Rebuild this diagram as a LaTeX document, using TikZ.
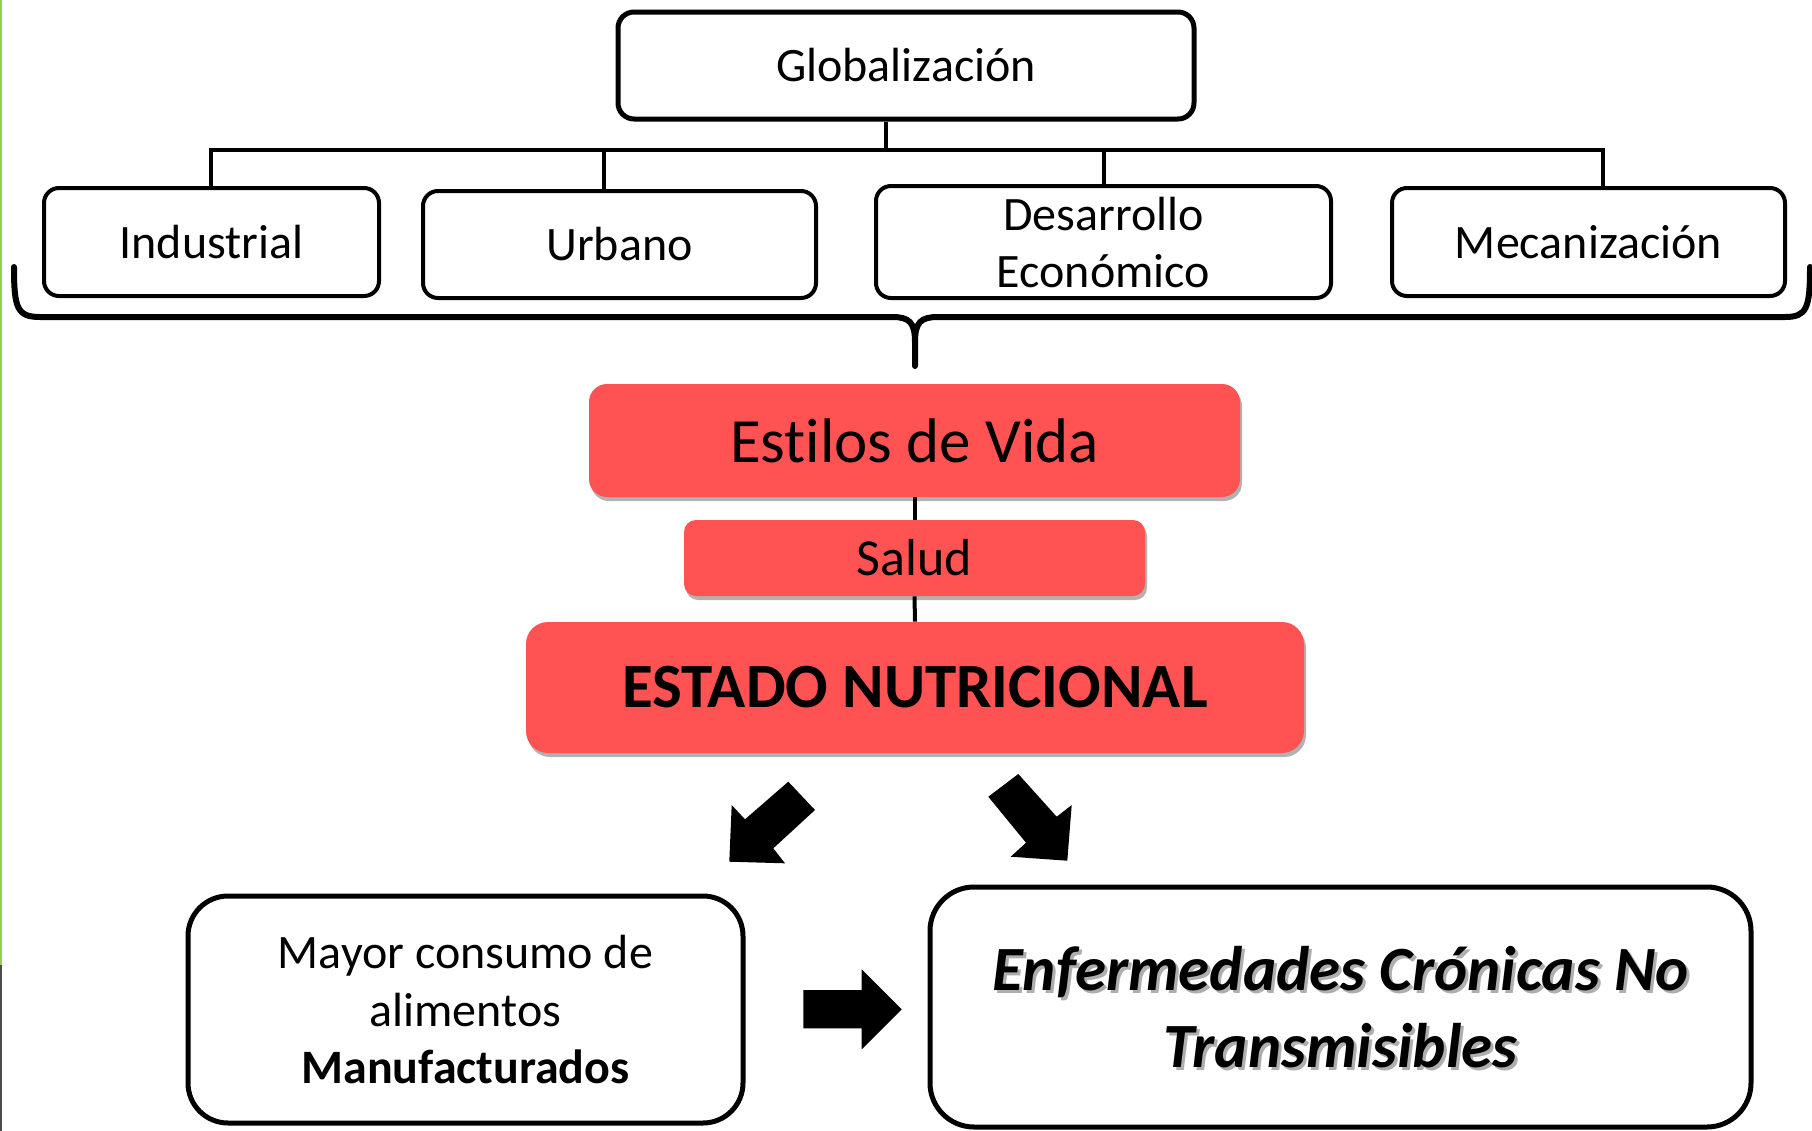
\documentclass[tikz,border=0pt]{standalone}
\usepackage{fontspec}
\setmainfont{Carlito}[Ligatures=NoCommon]
\usetikzlibrary{shadows}
\definecolor{redbox}{RGB}{255,82,82}
\definecolor{edgegreen}{RGB}{146,208,80}
\begin{document}
\begin{tikzpicture}[x=0.5pt,y=-0.5pt,
  topbox/.style={draw=black, line width=2pt, rounded corners=7.5pt, fill=white, inner sep=0pt, align=center, font=\fontsize{24}{28.5}\selectfont},
  redn/.style={fill=redbox, inner sep=0pt, align=center, drop shadow={shadow xshift=1pt, shadow yshift=-2pt, opacity=0.3, fill=black}},
  bottombox/.style={draw=black, line width=2.5pt, inner sep=0pt, align=center},
  tree/.style={line width=2.2pt, draw=black},
  link/.style={line width=2pt, draw=black},
  bracestyle/.style={line width=3pt, draw=black, line cap=round, line join=round},
  blockarrow/.style={fill=black, draw=none},
]
\useasboundingbox (0,0) rectangle (1812,1131);
\fill[white] (0,0) rectangle (1812,1131);

% left edge
\draw[edgegreen, line width=1pt] (1,0) -- (1,965);
\draw[black!70, line width=1pt] (1,965) -- (1,1131);

% tree coordinates
\coordinate (bus) at (886,150);
\coordinate (bL) at (211,150);
\coordinate (bU) at (604,150);
\coordinate (bD) at (1104,150);
\coordinate (bR) at (1603,150);

% top nodes
\node[topbox, line width=2.5pt, rounded corners=8pt, minimum width=288pt, minimum height=53.5pt] (glob) at (906,65.5) {Globalización};
\node[topbox, minimum width=167.5pt, minimum height=54pt] (ind) at (211.5,242) {Industrial};
\node[topbox, minimum width=196.5pt, minimum height=53.5pt] (urb) at (619.5,244.5) {Urbano};
\node[topbox, minimum width=227.5pt, minimum height=56pt] (des) at (1103.5,242) {Desarrollo\\Económico};
\node[topbox, minimum width=196.5pt, minimum height=54pt] (mec) at (1588.5,242) {Mecanización};

% tree lines
\draw[tree] (glob.south -| bus) -- (bus);
\draw[tree] (ind.north -| bL) -- (bL) -- (bR) -- (bR |- mec.north);
\draw[tree] (bU) -- (bU |- urb.north);
\draw[tree] (bD) -- (bD |- des.north);

% brace
\draw[bracestyle] (14,267) .. controls (14,308) and (17,317) .. (40,317) -- (892,317) .. controls (909,317) and (915,322) .. (915,342) -- (915,366);
\draw[bracestyle] (915,342) .. controls (915,322) and (921,317) .. (938,317) -- (1785,317) .. controls (1807,317) and (1810,308) .. (1810,267);

% red boxes
\node[redn, rounded corners=9pt, minimum width=325.5pt, minimum height=56.5pt, font=\fontsize{31.5}{38}\selectfont] (est) at (914.5,440.5) {Estilos de Vida};
\node[redn, rounded corners=6pt, minimum width=230.5pt, minimum height=38pt, font=\fontsize{26}{31}\selectfont] (sal) at (914.5,558) {Salud};
\node[redn, rounded corners=11pt, minimum width=389pt, minimum height=65.5pt, font=\bfseries\fontsize{31.5}{38}\selectfont] (esn) at (915,687.5) {ESTADO NUTRICIONAL};
\draw[link] (est.south) -- (sal.north);
\draw[link] (sal.south) -- (esn.north);

% block arrows
\fill[blockarrow] (788.3,781.7) -- (815,810) -- (773.3,848.3) -- (785,863.3) -- (729.3,861.7) -- (731.7,805) -- (745,819.3) -- cycle;
\fill[blockarrow] (988.3,796.7) -- (1018.3,774) -- (1056.7,816.7) -- (1071.7,805) -- (1067.3,860.7) -- (1010.7,856.7) -- (1026,842.7) -- cycle;
\fill[blockarrow] (803.3,990) -- (861.7,990) -- (861.7,969.3) -- (901.7,1009.3) -- (861.7,1049.3) -- (861.7,1028.3) -- (803.3,1028.3) -- cycle;

% bottom boxes
\node[bottombox, rounded corners=20pt, minimum width=277.5pt, minimum height=113.5pt, font=\fontsize{24}{28.75}\selectfont] (may) at (465.5,1009.5) {Mayor consumo de\\alimentos\\\textbf{Manufacturados}};
\node[font=\bfseries\itshape\fontsize{31.5}{38.5}\selectfont, text=black!45, text opacity=0.7, align=center, inner sep=0pt] (enfsh) at ([xshift=1.5pt,yshift=-1.5pt]1340.5,1007) {Enfermedades Crónicas No\\Transmisibles};
\node[bottombox, rounded corners=22pt, minimum width=410.5pt, minimum height=120pt, font=\bfseries\itshape\fontsize{31.5}{38.5}\selectfont] (enf) at (1340.5,1007) {Enfermedades Crónicas No\\Transmisibles};
\end{tikzpicture}
\end{document}
